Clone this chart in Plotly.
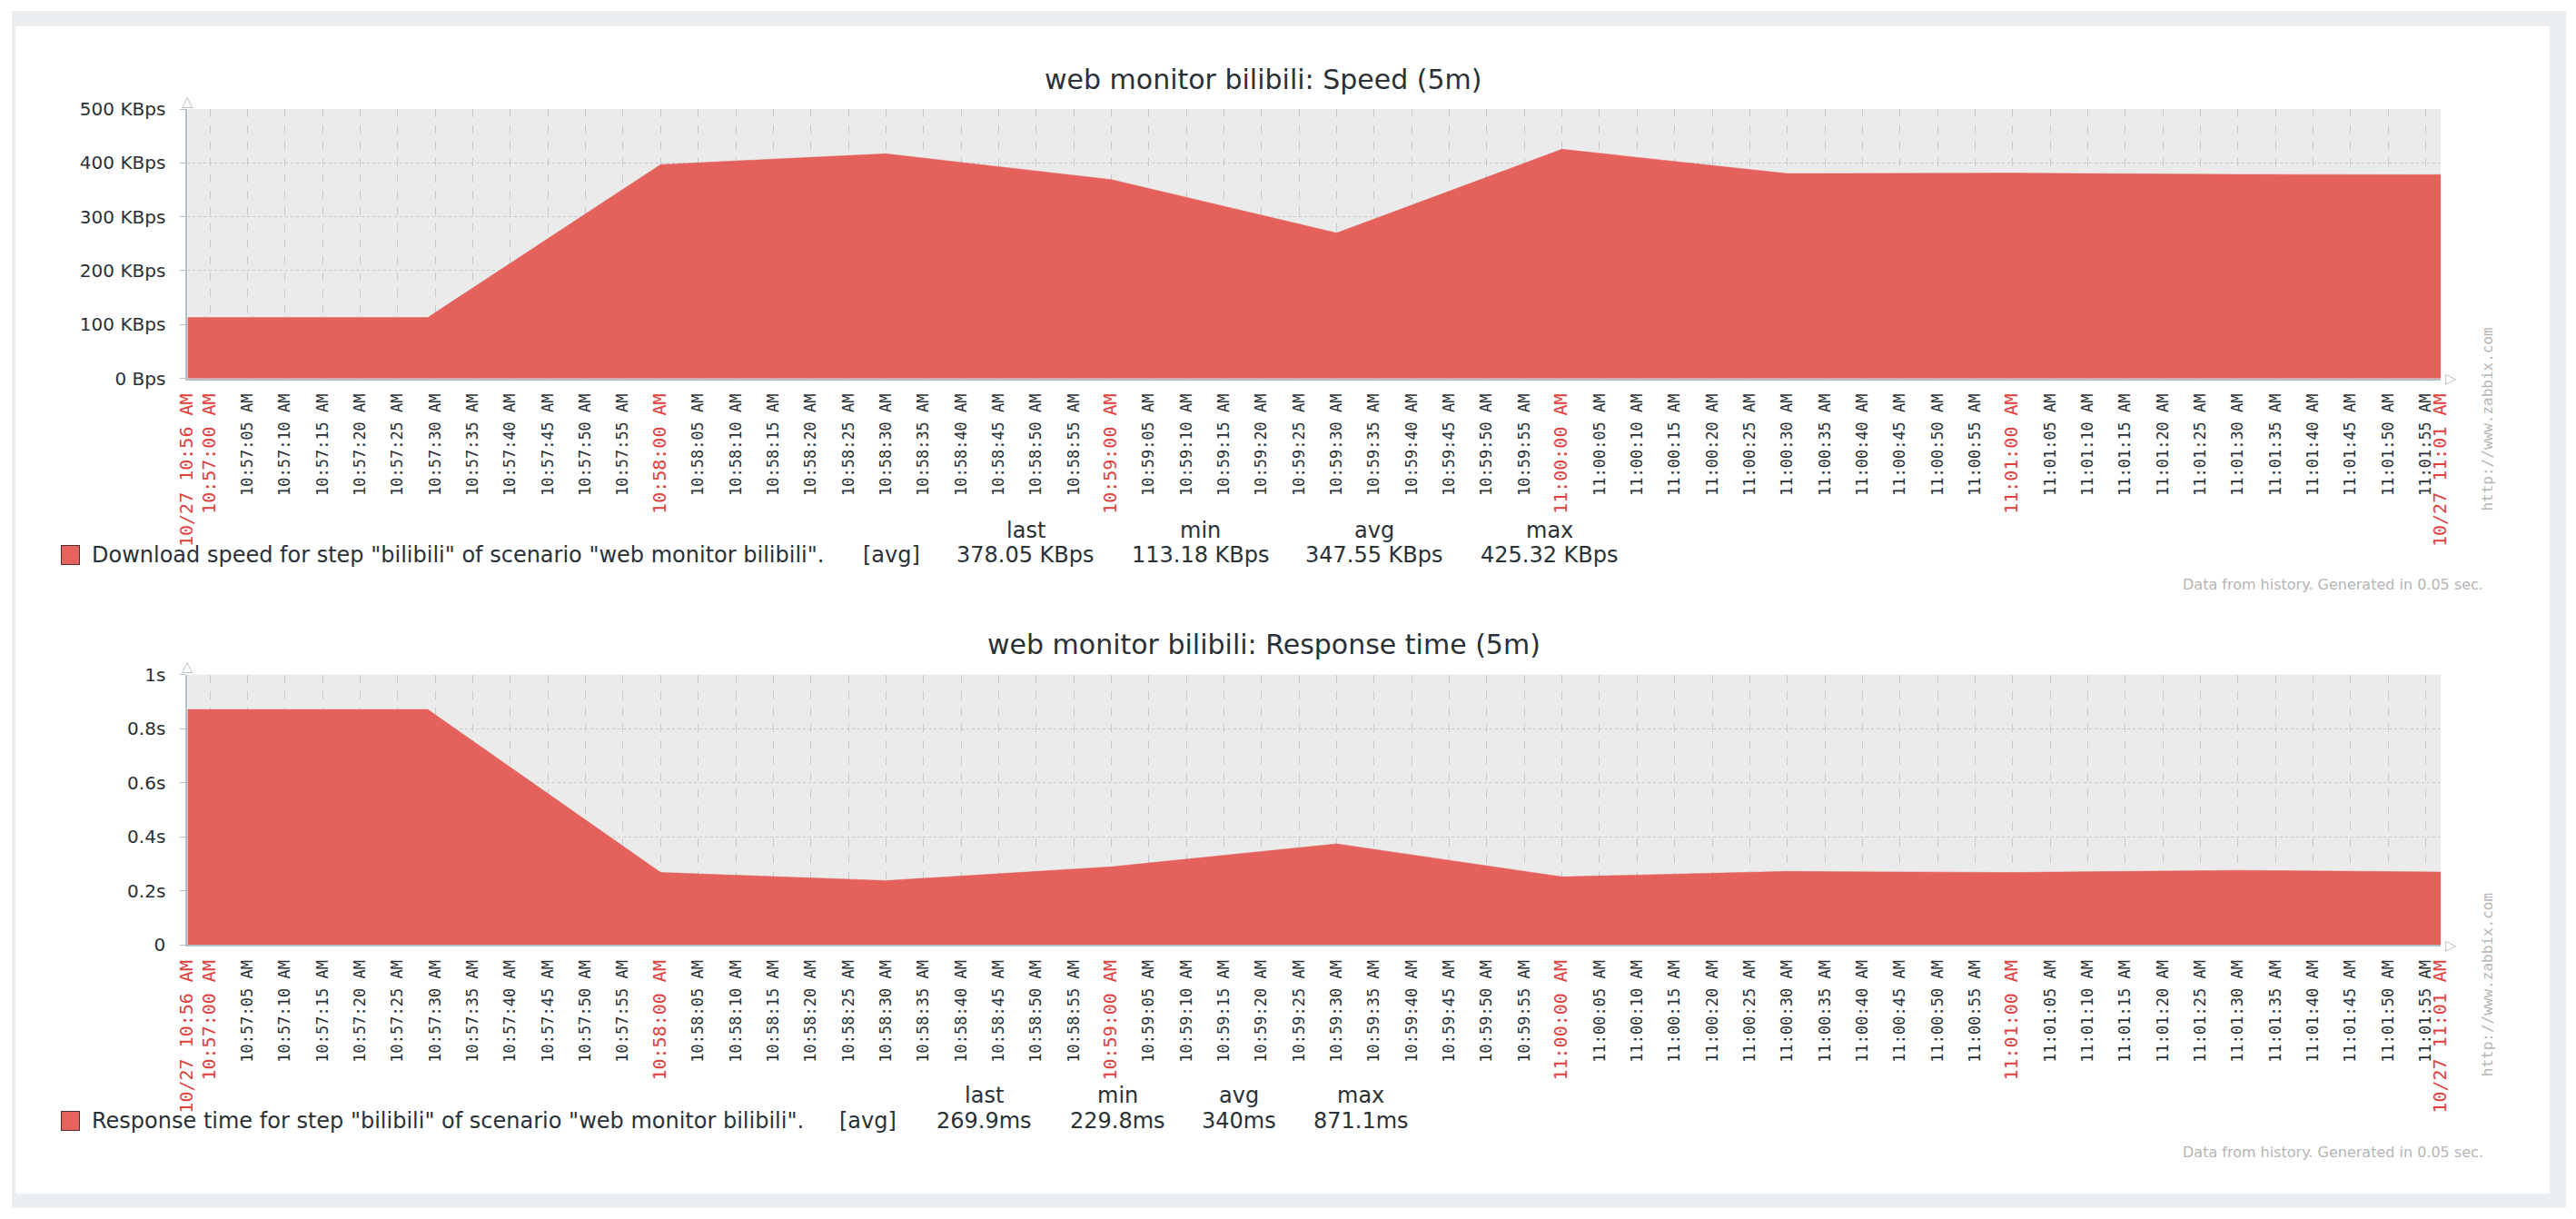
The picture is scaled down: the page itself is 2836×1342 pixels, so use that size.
import pandas as pd
import plotly.graph_objects as go

W, H = 2836, 1342

# sample times (10/27) and values
times = ["10:56:57", "10:57:29", "10:58:00", "10:58:30", "10:59:00", "10:59:30",
         "11:00:00", "11:00:30", "11:01:00", "11:01:30", "11:01:57"]
speed_kbps = [113.18, 113.18, 397.0, 417.0, 369.0, 270.0,
              425.32, 380.2, 381.0, 378.6, 378.05]
resp_sec = [0.8711, 0.8711, 0.268, 0.238, 0.289, 0.374,
            0.252, 0.272, 0.268, 0.276, 0.2699]

speed_ticks = [0, 100, 200, 300, 400, 500]
speed_ticktext = ["0 Bps", "100 KBps", "200 KBps", "300 KBps", "400 KBps", "500 KBps"]
resp_ticks = [0, 0.2, 0.4, 0.6, 0.8, 1.0]
resp_ticktext = ["0", "0.2s", "0.4s", "0.6s", "0.8s", "1s"]

speed_name = 'Download speed for step "bilibili" of scenario "web monitor bilibili".'
resp_name = 'Response time for step "bilibili" of scenario "web monitor bilibili".'
stat_heads = ["last", "min", "avg", "max"]
speed_stats = ["378.05 KBps", "113.18 KBps", "347.55 KBps", "425.32 KBps"]
resp_stats = ["269.9ms", "229.8ms", "340ms", "871.1ms"]

day = "2023-10-27 "
x = pd.to_datetime([day + t for t in times])
t_start, t_end = x[0], x[-1]

RED = "#e0413c"
FILL = "rgba(228,83,77,0.9)"
TXT = "#2a3136"
AX = "#b4bec7"
GRID = "#c3cad1"

# x tick labels: every 5 s, minutes in red, period bounds as dates
ticks = list(pd.date_range(day + "10:57:00", day + "11:01:55", freq="5s"))
tickvals = [t_start] + ticks + [t_end]
red_lab = '<span style="color:%s;font-size:20px">%s</span>'
ticktext = [red_lab % (RED, "10/27 10:56 AM")]
for t in ticks:
    lab = t.strftime("%I:%M:%S AM").lstrip("0")
    ticktext.append(red_lab % (RED, lab) if t.second == 0 else lab)
ticktext.append(red_lab % (RED, "10/27 11:01 AM"))
minutes = [t for t in ticks if t.second == 0]

fig = go.Figure()
fig.add_trace(go.Scatter(x=x, y=speed_kbps, mode="lines", fill="tozeroy",
                         fillcolor=FILL, line=dict(color=FILL, width=0.5),
                         xaxis="x", yaxis="y", showlegend=False))
fig.add_trace(go.Scatter(x=x, y=resp_sec, mode="lines", fill="tozeroy",
                         fillcolor=FILL, line=dict(color=FILL, width=0.5),
                         xaxis="x2", yaxis="y2", showlegend=False))

px_x = lambda v: v / W
px_y = lambda v: 1 - v / H
xdom = [px_x(195), px_x(2697)]

xcommon = dict(type="date", range=[t_start, t_end], tickmode="array",
               tickvals=tickvals, ticktext=ticktext, tickangle=-90,
               tickfont=dict(family="DejaVu Sans Mono", size=17, color=TXT),
               ticks="", ticklabelstandoff=8, showgrid=True, gridcolor=GRID,
               griddash="dash", gridwidth=1, showline=True, linecolor=AX,
               linewidth=2, zeroline=False, domain=xdom)
ycommon = dict(tickmode="array", tickfont=dict(family="DejaVu Sans", size=20, color=TXT),
               ticks="outside", ticklen=6, tickcolor=AX, ticklabelstandoff=12,
               showgrid=True, gridcolor=GRID, griddash="dot", gridwidth=1,
               showline=True, linecolor=AX, linewidth=2, zeroline=False)
minute_grid = dict(type="date", range=[t_start, t_end], tickmode="array",
                   tickvals=minutes, showticklabels=False, ticks="",
                   showgrid=True, gridcolor="#a9b3bc", griddash="dash",
                   gridwidth=1, showline=False, zeroline=False)

fig.update_layout(
    width=W, height=H, margin=dict(l=0, r=0, t=0, b=0),
    paper_bgcolor="white", plot_bgcolor="#ebebeb",
    font=dict(family="DejaVu Sans", color=TXT),
    xaxis=dict(xcommon, anchor="y"),
    xaxis2=dict(xcommon, anchor="y2"),
    xaxis3=dict(minute_grid, overlaying="x", anchor="y"),
    xaxis4=dict(minute_grid, overlaying="x2", anchor="y2"),
    yaxis=dict(ycommon, range=[0, 500], tickvals=speed_ticks, ticktext=speed_ticktext,
               domain=[px_y(412), px_y(110)], anchor="x"),
    yaxis2=dict(ycommon, range=[0, 1], tickvals=resp_ticks, ticktext=resp_ticktext,
                domain=[px_y(1047), px_y(744)], anchor="x2"),
)

# page frame (grey border round the white panel)
frame = "#ebeef0"
for x0, y0, x1, y1 in [(0, 0, W, 17), (0, 1326, W, H), (0, 0, 4, H), (2818, 0, W, H)]:
    fig.add_shape(type="rect", xref="paper", yref="paper", layer="below",
                  x0=px_x(x0), x1=px_x(x1), y0=px_y(y1), y1=px_y(y0),
                  fillcolor=frame, line_width=0)

ann = []


def text(xp, yp, s, size=24, color=TXT, anchor="center", family="DejaVu Sans", angle=0):
    ann.append(dict(x=px_x(xp), y=px_y(yp), xref="paper", yref="paper", text=s,
                    showarrow=False, xanchor=anchor, yanchor="middle", textangle=angle,
                    font=dict(family=family, size=size, color=color)))


# titles
text(1390, 77, "web monitor bilibili: Speed (5m)", size=30)
text(1390, 710, "web monitor bilibili: Response time (5m)", size=30)

# axis arrows
for yy in (101, 735):
    text(195, yy, "△", size=16, color=AX)
for yy in (412, 1047):
    text(2708, yy, "▷", size=16, color=AX)

# legends with stats columns
for row_y, name, avg_x, cols, stats in [
        (610, speed_name, 977, [1126, 1320, 1513, 1707], speed_stats),
        (1244, resp_name, 951, [1080, 1228, 1363, 1498], resp_stats)]:
    ann.append(dict(x=px_x(65), y=px_y(row_y), xref="paper", yref="paper", text=" ",
                    showarrow=False, width=19, height=20, bgcolor="#e5625d",
                    bordercolor="#4a3030", borderwidth=1, borderpad=0,
                    xanchor="center", yanchor="middle"))
    text(87, row_y, name, anchor="left")
    text(avg_x, row_y, "[avg]")
    for cx, head, val in zip(cols, stat_heads, stats):
        text(cx, row_y - 28, head)
        text(cx, row_y, val)

# zabbix watermark and footer
for cy, fy in [(458, 643), (1092, 1279)]:
    text(2749, cy, "http://www.zabbix.com", size=16, color="#b5b5b5",
         family="DejaVu Sans Mono", angle=-90)
    text(2746, fy, "Data from history. Generated in 0.05 sec.", size=16,
         color="#b5b5b5", anchor="right")

fig.update_layout(annotations=ann)
# figure fills the window exactly: no page margin, no scrollbars, no modebar
page_js = ("document.body.style.margin='0px';"
           "document.body.style.overflow='hidden';"
           "document.documentElement.style.overflow='hidden';")
fig.write_html("out.html", post_script=page_js, config={"displayModeBar": False})
